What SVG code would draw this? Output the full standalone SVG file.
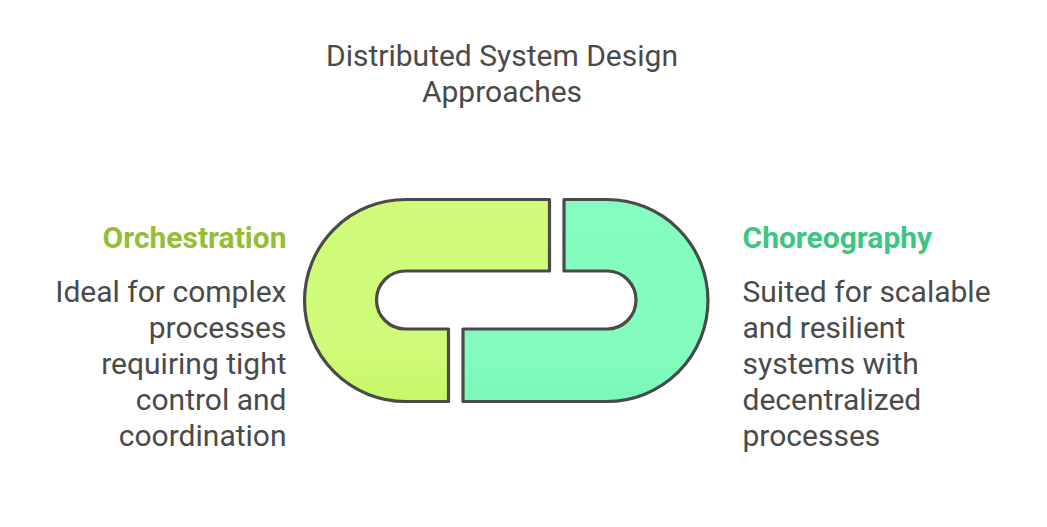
<svg xmlns="http://www.w3.org/2000/svg" width="1047" height="527" viewBox="0 0 1047 527">
<style>
text{font-family:Roboto,"Liberation Sans",sans-serif;font-size:30px;fill:#4a4a4a}
.h{font-weight:700}
.r{text-anchor:end}
.m{text-anchor:middle}
.s{stroke:#4a4a4a;stroke-width:3.2;stroke-linejoin:round}
</style>
<defs>
<linearGradient id="a" x1="0" y1="0" x2="0" y2="1"><stop offset="0" stop-color="#d1fb79"/><stop offset="0.75" stop-color="#d0fb78"/><stop offset="1" stop-color="#c7f767"/></linearGradient>
<linearGradient id="b" x1="0" y1="0" x2="0" y2="1"><stop offset="0" stop-color="#85fcc1"/><stop offset="0.75" stop-color="#84fcc0"/><stop offset="1" stop-color="#78f8b8"/></linearGradient>
</defs>
<rect width="1047" height="527" fill="#fff"/>
<g id="title"><text class="m" x="502" y="66">Distributed System Design</text><text class="m" x="502" y="102">Approaches</text></g>
<g id="orchestration">
<path class="s" fill="url(#a)" d="M549.5 199.500H405.500A101 101 0 0 0 405.500 401.500H448.500V329H405.500A29 29 0 0 1 405.500 271H549.500Z"/>
<text class="h r" x="286.500" y="247.500" style="fill:#94bd38">Orchestration</text>
<text class="r" x="286.500" y="302">Ideal for complex</text><text class="r" x="286.500" y="338">processes</text><text class="r" x="286.500" y="374">requiring tight</text><text class="r" x="286.500" y="410">control and</text><text class="r" x="286.500" y="446">coordination</text>
</g>
<g id="choreography">
<path class="s" fill="url(#b)" d="M564 199.500H607A101 101 0 0 1 607 401.500H463V329H607A29 29 0 0 0 607 271H564Z"/>
<text class="h" x="742.500" y="247.500" style="fill:#3cc583">Choreography</text>
<text x="742.500" y="302">Suited for scalable</text><text x="742.500" y="338">and resilient</text><text x="742.500" y="374">systems with</text><text x="742.500" y="410">decentralized</text><text x="742.500" y="446">processes</text>
</g>
</svg>
